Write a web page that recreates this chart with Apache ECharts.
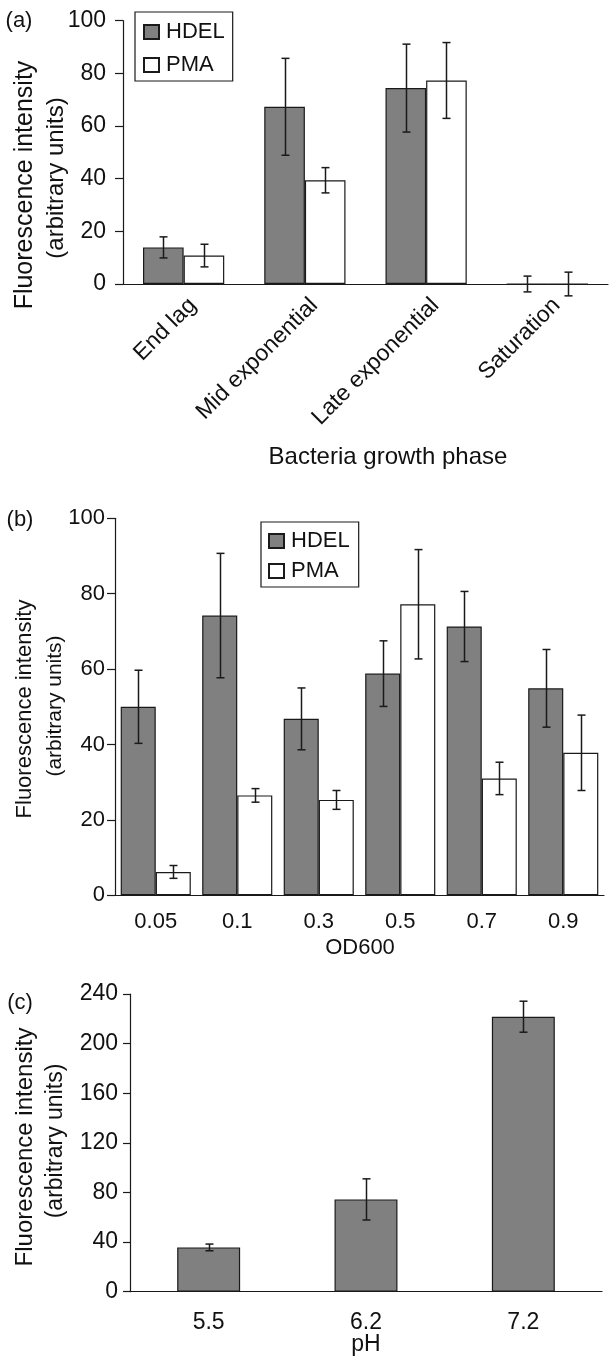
<!DOCTYPE html>
<html>
<head>
<meta charset="utf-8">
<title>Fluorescence intensity</title>
<script src="https://cdn.jsdelivr.net/npm/echarts@6/dist/echarts.min.js"></script>
<style>
  html, body { margin: 0; padding: 0; background: #fff; }
  #main { width: 609px; height: 1358px; }
</style>
</head>
<body>
<div id="main"></div>
<script>
// (a) growth phase
var phaseLabels = ['End lag', 'Mid exponential', 'Late exponential', 'Saturation'];
var phaseHdel = [13.9, 67.3, 74.4, 0];
var phaseHdelErr = [4.0, 18.4, 16.7, 3.0];
var phasePma = [10.8, 39.4, 77.3, 0];
var phasePmaErr = [4.3, 4.8, 14.4, 4.5];
var phaseTicks = [0, 20, 40, 60, 80, 100];

// (b) OD600
var odLabels = ['0.05', '0.1', '0.3', '0.5', '0.7', '0.9'];
var odHdel = [50.0, 74.2, 46.8, 58.8, 71.3, 54.9];
var odHdelErr = [9.7, 16.5, 8.2, 8.7, 9.3, 10.3];
var odPma = [6.2, 26.5, 25.3, 77.2, 31.0, 37.8];
var odPmaErr = [1.7, 1.8, 2.5, 14.5, 4.3, 10.0];
var odTicks = [0, 20, 40, 60, 80, 100];

// (c) pH
var phLabels = ['5.5', '6.2', '7.2'];
var phValues = [35.7, 74.4, 221.7];
var phErr = [2.7, 16.6, 12.5];
var phTicks = [0, 40, 80, 120, 160, 200, 240];

var FONT = '"Liberation Sans", Arial, sans-serif';
var INK = '#1a1a1a';
var GRAY = '#808080';

function errData(vals, errs) {
  return vals.map(function (v, i) { return [i, v, errs[i]]; });
}

// offset = shift of the bar centre, as a fraction of the category width
function errorSeries(idx, vals, errs, offset) {
  return {
    type: 'custom',
    xAxisIndex: idx,
    yAxisIndex: idx,
    z: 5,
    silent: true,
    data: errData(vals, errs),
    renderItem: function (params, api) {
      var i = api.value(0), v = api.value(1), e = api.value(2);
      var band = api.size([1, 0])[0];
      var x = Math.round(api.coord([i, v])[0] + offset * band) + 0.5;
      var yHi = api.coord([i, v + e])[1];
      var yLo = api.coord([i, v - e])[1];
      var st = { stroke: INK, lineWidth: 1.5 };
      return {
        type: 'group',
        children: [
          { type: 'line', shape: { x1: x, y1: yHi, x2: x, y2: yLo }, style: st },
          { type: 'line', shape: { x1: x - 4, y1: yHi, x2: x + 4, y2: yHi }, style: st },
          { type: 'line', shape: { x1: x - 4, y1: yLo, x2: x + 4, y2: yLo }, style: st }
        ]
      };
    }
  };
}

function yAxisFor(idx, ticks, margin, tickLen, size) {
  return {
    type: 'value',
    gridIndex: idx,
    min: ticks[0],
    max: ticks[ticks.length - 1],
    interval: ticks[1] - ticks[0],
    splitLine: { show: false },
    axisLine: { show: true, lineStyle: { color: INK, width: 1.2 } },
    axisTick: { show: true, length: tickLen, lineStyle: { color: INK, width: 1.2 } },
    axisLabel: { color: '#111', fontSize: size, fontFamily: FONT, margin: margin }
  };
}

function xAxisFor(idx, labels, margin, tickLen, size, rotate) {
  var ax = {
    type: 'category',
    gridIndex: idx,
    data: labels,
    axisLine: { lineStyle: { color: INK, width: 1.2 } },
    axisTick: { length: tickLen, lineStyle: { color: INK, width: 1.2 } },
    axisLabel: {
      color: '#111', fontSize: size, fontFamily: FONT, margin: margin,
      rotate: rotate || 0, interval: 0
    }
  };
  // slanted labels sit a bit past the category centre, like Excel does
  if (rotate) ax.axisLabel.padding = [0, -13, 0, 0];
  return ax;
}

function txt(x, y, text, size, rot) {
  return {
    type: 'text', x: x, y: y, rotation: rot || 0,
    style: {
      text: text, fill: '#111', font: size + 'px ' + FONT,
      textAlign: 'center', textVerticalAlign: 'middle'
    }
  };
}

var hdelStyle = { color: GRAY, borderColor: INK, borderWidth: 1.2 };
var pmaStyle = { color: '#fff', borderColor: INK, borderWidth: 1.2 };
var R = Math.PI / 2;

var legendBase = {
  orient: 'vertical',
  icon: 'rect',
  itemWidth: 15,
  itemHeight: 14,
  backgroundColor: '#fff',
  borderColor: INK,
  borderWidth: 1.2,
  borderRadius: 0,
  selectedMode: false,
  data: ['HDEL', 'PMA'],
  textStyle: { fontSize: 22, fontFamily: FONT, color: '#111', padding: [0, 0, 0, 2] }
};

var myChart = echarts.init(document.getElementById('main'), null, { renderer: 'canvas' });

var option = {
  backgroundColor: '#fff',
  animation: false,
  grid: [
    { left: 123, top: 20.7, width: 485, height: 263.3 },
    { left: 115, top: 518.3, width: 489, height: 377 },
    { left: 130, top: 994, width: 472, height: 297.7 }
  ],
  legend: [
    Object.assign({}, legendBase, {
      left: 135, top: 12, itemGap: 11, padding: [9, 8, 5, 8]
    }),
    Object.assign({}, legendBase, {
      left: 261, top: 522, itemGap: 8, padding: [8, 9, 5, 7]
    })
  ],
  xAxis: [
    xAxisFor(0, phaseLabels, 27, 9, 23, 45),
    xAxisFor(1, odLabels, 16, 10, 22),
    xAxisFor(2, phLabels, 19, 7, 23)
  ],
  yAxis: [
    yAxisFor(0, phaseTicks, 17, 8, 23),
    yAxisFor(1, odTicks, 10, 8, 22),
    yAxisFor(2, phTicks, 12, 7, 23)
  ],
  series: [
    { name: 'HDEL', type: 'bar', xAxisIndex: 0, yAxisIndex: 0, data: phaseHdel,
      barGap: '0%', barCategoryGap: '33%', itemStyle: hdelStyle },
    { name: 'PMA', type: 'bar', xAxisIndex: 0, yAxisIndex: 0, data: phasePma,
      barGap: '0%', barCategoryGap: '33%', itemStyle: pmaStyle },
    errorSeries(0, phaseHdel, phaseHdelErr, -0.1675),
    errorSeries(0, phasePma, phasePmaErr, 0.1675),

    { name: 'HDEL', type: 'bar', xAxisIndex: 1, yAxisIndex: 1, data: odHdel,
      barGap: '0%', barCategoryGap: '14%', itemStyle: hdelStyle },
    { name: 'PMA', type: 'bar', xAxisIndex: 1, yAxisIndex: 1, data: odPma,
      barGap: '0%', barCategoryGap: '14%', itemStyle: pmaStyle },
    errorSeries(1, odHdel, odHdelErr, -0.215),
    errorSeries(1, odPma, odPmaErr, 0.215),

    { name: 'pH', type: 'bar', xAxisIndex: 2, yAxisIndex: 2, data: phValues,
      barCategoryGap: '60%', itemStyle: hdelStyle },
    errorSeries(2, phValues, phErr, 0)
  ],
  graphic: [
    // panel letters
    txt(19, 21, '(a)', 22),
    txt(20, 520, '(b)', 22),
    txt(20, 1003, '(c)', 22),
    // y axis names, two lines each
    txt(25, 185, 'Fluorescence intensity', 25, R),
    txt(56, 178, '(arbitrary units)', 24, R),
    txt(25, 709, 'Fluorescence intensity', 22, R),
    txt(55, 706, '(arbitrary units)', 21, R),
    txt(25, 1147, 'Fluorescence intensity', 24, R),
    txt(56, 1141, '(arbitrary units)', 23, R),
    // x axis names
    txt(388, 457, 'Bacteria growth phase', 24),
    txt(360, 948, 'OD600', 22),
    txt(366, 1345, 'pH', 23)
  ]
};

myChart.setOption(option);
</script>
</body>
</html>
